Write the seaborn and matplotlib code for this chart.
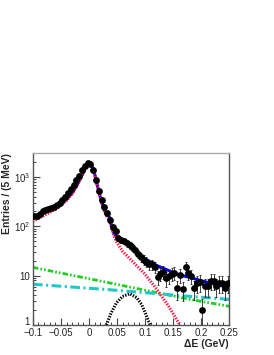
import matplotlib
matplotlib.use("Agg")
import matplotlib.pyplot as plt
import matplotlib.ticker as mticker
import matplotlib.transforms as mtransforms
import numpy as np
import pandas as pd
import seaborn as sns

# data points, 5 MeV bins from -0.1 to 0.25 GeV
bin_lo = -0.1
bin_w = 0.005
counts = [165, 160, 175, 200, 215, 225, 240, 250, 270, 300,
          340, 400, 470, 560, 680, 850, 1050, 1350, 1700, 1950,
          1850, 1400, 850, 520, 340, 250, 190, 135, 95, 80,
          58, 52, 50, 45, 41, 38, 33, 28, 24, 21,
          19, 17, 17, 15, 9.5, 11, 12, 9, 10, 11,
          11.5, 5.5, 10.5, 5.3, 15, 11.5, 10, 5.5, 7.2, 7.5,
          2.0, 6.2, 6.2, 7.8, 7.8, 6.2, 7.0, 7.2, 5.5, 7.2]

# fit components
sig_x = [-0.1, -0.08, -0.06, -0.04, -0.03, -0.02, -0.01, -0.005, 0.0, 0.005,
         0.01, 0.015, 0.02, 0.025, 0.03, 0.037, 0.04, 0.045, 0.05, 0.06,
         0.073, 0.09, 0.1, 0.121, 0.142, 0.1625]
sig_y = [125, 165, 220, 330, 450, 700, 1200, 1600, 1850, 1700,
         1150, 650, 380, 240, 170, 130, 95, 62, 47, 31,
         22, 14, 10.7, 5.3, 2.4, 1.0]

tot_x = [-0.1, -0.08, -0.06, -0.04, -0.03, -0.02, -0.01, -0.005, 0.0, 0.005,
         0.01, 0.015, 0.02, 0.025, 0.03, 0.037, 0.04, 0.045, 0.05, 0.055,
         0.06, 0.073, 0.09, 0.1, 0.121, 0.145, 0.16, 0.18, 0.2, 0.216, 0.25]
tot_y = [150, 190, 245, 355, 475, 725, 1225, 1625, 1875, 1725,
         1175, 675, 400, 262, 192, 150, 105, 70, 61, 55,
         50, 39, 27, 22, 16, 12.3, 10.5, 9.2, 7.9, 7.1, 5.7]

bkg1_x = [-0.1, 0.02, 0.18, 0.25]
bkg1_y = [14.7, 7.8, 3.3, 2.4]

bkg2_x = [-0.1, 0.035, 0.18, 0.25]
bkg2_y = [6.7, 5.2, 3.8, 3.3]

peak_x = [0.031, 0.04, 0.049, 0.06, 0.073, 0.085, 0.094, 0.102, 0.109]
peak_y = [1.0, 1.8, 2.8, 3.8, 4.3, 3.6, 2.6, 1.6, 1.0]

centers = [bin_lo + bin_w * (i + 0.5) for i in range(len(counts))]
df = pd.DataFrame({"x": centers, "y": counts})
df["err"] = np.sqrt(df["y"])

sns.set_style("ticks")
plt.rcParams["font.family"] = ["Liberation Sans", "DejaVu Sans"]
plt.rcParams["mathtext.fontset"] = "custom"
plt.rcParams["mathtext.rm"] = "Liberation Sans"
plt.rcParams["lines.scale_dashes"] = False

fig = plt.figure(figsize=(2.74, 3.55), dpi=100)
ax = fig.add_axes([0.12, 0.0845, 0.716, 0.4855])

def curve(xs, ys, color, lw, dashes):
    sns.lineplot(x=xs, y=ys, ax=ax, color=color, lw=lw, sort=False, estimator=None)
    line = ax.lines[-1]
    if dashes is not None:
        line.set_dashes(dashes)
        line.set_dash_capstyle("butt")

curve(bkg1_x, bkg1_y, "#22cc22", 2.0, (4, 1.5, 1.2, 1.5, 1.2, 1.5))
curve(bkg2_x, bkg2_y, "#22c8c8", 2.2, (7, 2.5, 1.5, 2.5))
curve(peak_x, peak_y, "black", 2.2, (1.0, 1.0))
curve(tot_x, tot_y, "#0000ee", 2.2, None)
curve(sig_x, sig_y, "#ff1744", 2.2, (1.0, 1.0))

ax.errorbar(df["x"], df["y"], yerr=df["err"], fmt="none", ecolor="#222222",
            elinewidth=0.6, capsize=1.0, capthick=0.6, zorder=5)
sns.scatterplot(data=df, x="x", y="y", ax=ax, color="black", s=24,
                edgecolor="black", linewidth=0, zorder=6)

ax.set_yscale("log")
ax.set_xlim(-0.1, 0.25)
ax.set_ylim(1, 3100)

ax.xaxis.set_major_locator(mticker.MultipleLocator(0.05))
ax.xaxis.set_minor_locator(mticker.MultipleLocator(0.01))
ax.xaxis.set_major_formatter(mticker.FuncFormatter(
    lambda v, p: "0" if abs(v) < 1e-9 else ("%g" % v).replace("-", "\u2212")))

ytick_vals = [1, 10, 100, 1000]
ytick_text = ["1", "10", r"$10^{2}$", r"$10^{3}$"]
ax.yaxis.set_major_locator(mticker.FixedLocator(ytick_vals))
ax.yaxis.set_major_formatter(mticker.FixedFormatter(ytick_text))
ax.yaxis.set_minor_locator(mticker.LogLocator(base=10, subs=np.arange(2, 10)))
ax.yaxis.set_minor_formatter(mticker.NullFormatter())

ax.tick_params(axis="both", which="both", direction="in", top=False, right=False,
               labelsize=7, color="#444444", pad=2)
ax.tick_params(axis="both", which="major", length=5, width=0.8)
ax.tick_params(axis="both", which="minor", length=2.5, width=0.7)

for s in ax.spines.values():
    s.set_color("#555555")
    s.set_linewidth(1.0)
ax.spines["top"].set_color("#aaaaaa")

ax.set_xlabel("\u0394E (GeV)", fontsize=7.5, fontweight="bold",
              loc="right", labelpad=1)
ax.set_ylabel("Entries / (5 MeV)", fontsize=7.5, fontweight="bold",
              loc="top", labelpad=1)

# lift the "1" label a little, as in the reference
fig.canvas.draw()
lab1 = ax.yaxis.get_majorticklabels()[0]
lab1.set_transform(lab1.get_transform() +
                   mtransforms.ScaledTranslation(0, 3 / 72, fig.dpi_scale_trans))

fig.savefig("out.png", dpi=100)
